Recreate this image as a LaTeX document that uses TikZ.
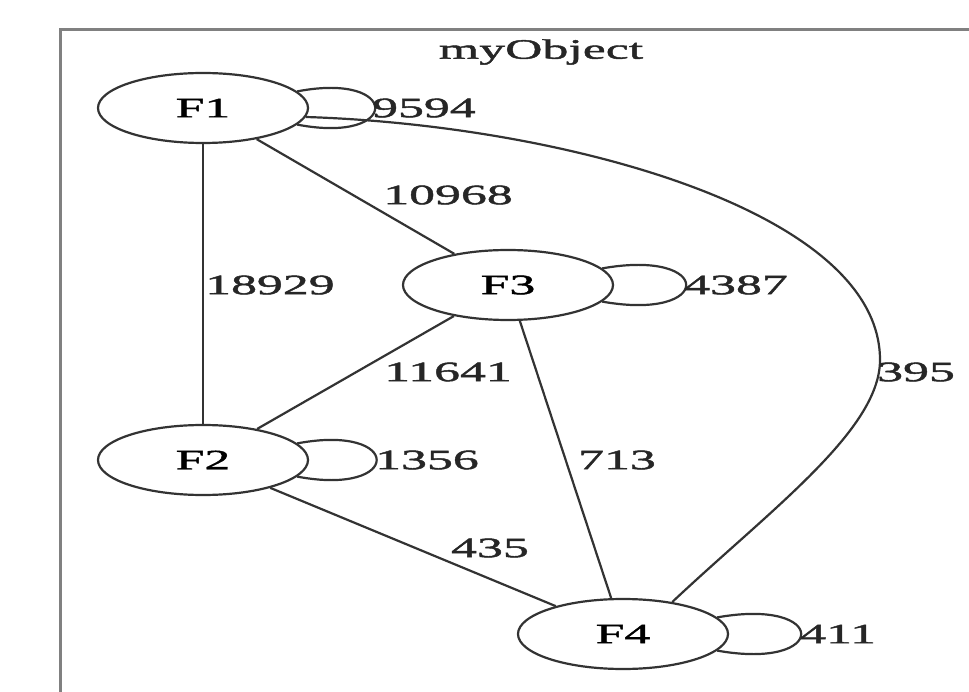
\documentclass[tikz,border=0pt]{standalone}
\usepackage{fontspec}
\setmainfont{Liberation Serif}
\newfontfamily\widefont[FakeStretch=1.85,FakeBold=1.6]{Liberation Serif}
\usetikzlibrary{shapes.geometric}
\definecolor{edgecol}{gray}{0.2}
\tikzset{
  fnode/.style={ellipse, draw=edgecol, line width=2.2pt, minimum width=210pt, minimum height=70pt, inner sep=0pt, font=\widefont\fontsize{28}{30}\selectfont},
  lbl/.style={inner sep=0pt, text=black!85, font=\widefont\fontsize{28}{30}\selectfont},
  lbw/.style={lbl, anchor=west},
  conn/.style={draw=edgecol, line width=2.2pt},
}
\begin{document}
\begin{tikzpicture}[x=1pt,y=-1pt]
\useasboundingbox (0,0) rectangle (969,692);
\fill[white] (0,0) rectangle (969,692);
% frame
\draw[gray, line width=3pt] (60,692) -- (60,30) -- (969,30);
\node[lbl] (title) at (541,52) {myObject};
% nodes
\node[fnode] (F1) at (203,108) {F1};
\node[fnode] (F2) at (203,460) {F2};
\node[fnode] (F3) at (508,285) {F3};
\node[fnode] (F4) at (623,634) {F4};
% edges
\draw[conn] (F1) -- (F2);
\draw[conn] (F1) -- (F3);
\draw[conn] (F2) -- (F3);
\draw[conn] (F3) -- (F4);
\draw[conn] (F2) -- (F4);
\draw[conn] (F1.-5) .. controls (560,125) and (880,210) .. (880,360)
  .. controls (880,430) and (770,510) .. (F4.33);
% loops
\draw[conn] (F1.10) .. controls +(104,-20) and +(104,20) .. (F1.-10);
\draw[conn] (F2.10) .. controls +(106,-20) and +(106,20) .. (F2.-10);
\draw[conn] (F3.10) .. controls +(112,-20) and +(112,20) .. (F3.-10);
\draw[conn] (F4.10) .. controls +(112,-20) and +(112,20) .. (F4.-10);
% labels
\node[lbw] (l9594) at (372,108) {9594};
\node[lbl] (l10968) at (448,195) {10968};
\node[lbw] (l18929) at (205,285) {18929};
\node[lbw] (l4387) at (684,285) {4387};
\node[lbl] (l11641) at (448,372) {11641};
\node[lbw] (l395) at (877,372) {395};
\node[lbw] (l1356) at (375,460) {1356};
\node[lbl] (l713) at (617,460) {713};
\node[lbl] (l435) at (490,548) {435};
\node[lbw] (l411) at (800,634) {411};
\end{tikzpicture}
\end{document}
